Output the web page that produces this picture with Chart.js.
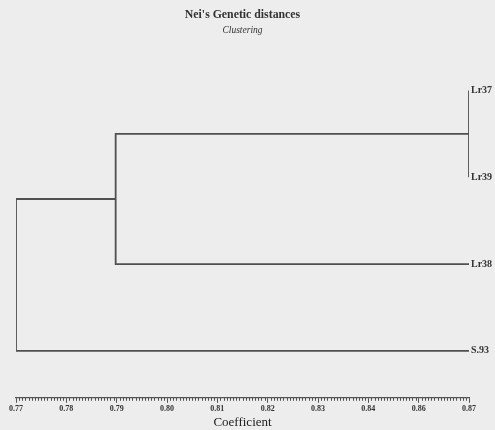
<!DOCTYPE html>
<html>
<head>
<meta charset="utf-8">
<script src="https://cdn.jsdelivr.net/npm/chart.js@4/dist/chart.umd.min.js"></script>
<style>
  html, body { margin: 0; padding: 0; background: #ededed; }
  canvas { display: block; }
</style>
</head>
<body>
<canvas id="c" width="495" height="430"></canvas>
<script>
// ---- data ----
const leaves = ['Lr37', 'Lr39', 'Lr38', 'S.93'];
const mergeLeft = ['Lr37', 'C1', 'C2'];
const mergeRight = ['Lr39', 'Lr38', 'S.93'];
const mergeCoefficient = [0.870, 0.792, 0.770];
const tickLabels = ['0.77', '0.78', '0.79', '0.80', '0.81', '0.82', '0.83', '0.84', '0.86', '0.87'];
const axisMin = 0.77;
const axisMax = 0.87;
const minorPerInterval = 16;

// ---- build dendrogram paths from the merges ----
const nodes = {};
leaves.forEach((name, i) => { nodes[name] = { x: axisMax, y: i }; });
const datasets = [];
mergeLeft.forEach((a, i) => {
  const b = mergeRight[i];
  const h = mergeCoefficient[i];
  const A = nodes[a], B = nodes[b];
  datasets.push({
    data: [{ x: A.x, y: A.y }, { x: h, y: A.y }, { x: h, y: B.y }, { x: B.x, y: B.y }],
    showLine: true,
    borderColor: '#505050',
    borderWidth: 1.8,
    pointRadius: 0,
    tension: 0,
    fill: false
  });
  nodes['C' + (i + 1)] = { x: h, y: (A.y + B.y) / 2 };
});

const tickStep = (axisMax - axisMin) / (tickLabels.length - 1);

const decor = {
  id: 'decor',
  beforeDraw(chart) {
    const ctx = chart.ctx;
    ctx.save();
    ctx.fillStyle = '#ededed';
    ctx.fillRect(0, 0, chart.width, chart.height);
    ctx.restore();
  },
  afterDraw(chart) {
    const ctx = chart.ctx;
    const xs = chart.scales.x, ys = chart.scales.y;
    const yAxis = chart.chartArea.bottom;
    ctx.save();
    // minor ticks
    ctx.strokeStyle = '#555';
    ctx.lineWidth = 1;
    const n = (tickLabels.length - 1) * minorPerInterval;
    for (let k = 0; k <= n; k++) {
      if (k % minorPerInterval === 0) continue;
      const px = Math.round(xs.getPixelForValue(axisMin + k * tickStep / minorPerInterval)) + 0.5;
      ctx.beginPath();
      ctx.moveTo(px, yAxis);
      ctx.lineTo(px, yAxis + 3);
      ctx.stroke();
    }
    // leaf labels
    ctx.fillStyle = '#333';
    ctx.font = 'bold 10px "Liberation Serif"';
    ctx.textBaseline = 'middle';
    ctx.textAlign = 'left';
    leaves.forEach((name, i) => {
      ctx.fillText(name, xs.getPixelForValue(axisMax) + 2, ys.getPixelForValue(i));
    });
    ctx.restore();
  }
};

new Chart(document.getElementById('c'), {
  type: 'scatter',
  data: { datasets },
  plugins: [decor],
  options: {
    responsive: false,
    animation: false,
    devicePixelRatio: 1,
    layout: { padding: { left: 16, right: 26, top: 0, bottom: 0 } },
    plugins: {
      legend: { display: false },
      tooltip: { enabled: false },
      title: {
        display: true,
        text: "Nei's Genetic distances",
        color: '#333',
        font: { family: 'Liberation Serif', size: 11.8, weight: 'bold' },
        padding: { top: 8, bottom: 3 }
      },
      subtitle: {
        display: true,
        text: 'Clustering',
        color: '#333',
        font: { family: 'Liberation Serif', size: 9.5, style: 'italic' },
        padding: { top: 0, bottom: 4 }
      }
    },
    scales: {
      x: {
        type: 'linear',
        position: 'bottom',
        min: axisMin,
        max: axisMax,
        afterBuildTicks(scale) {
          scale.ticks = tickLabels.map((_, i) => ({ value: axisMin + i * tickStep }));
        },
        grid: { drawOnChartArea: false, drawTicks: true, tickLength: 5, color: '#555', lineWidth: 1 },
        border: { display: true, color: '#555', width: 1.2 },
        ticks: {
          autoSkip: false,
          maxRotation: 0,
          padding: 1,
          color: '#333',
          font: { family: 'Liberation Serif', size: 8, weight: 'bold' },
          callback: (v, i) => tickLabels[i]
        },
        title: {
          display: true,
          text: 'Coefficient',
          color: '#222',
          font: { family: 'Liberation Serif', size: 13 },
          padding: { top: 0, bottom: 0 }
        }
      },
      y: {
        type: 'linear',
        display: false,
        reverse: true,
        min: -0.575,
        max: 3.54
      }
    }
  }
});
</script>
</body>
</html>
